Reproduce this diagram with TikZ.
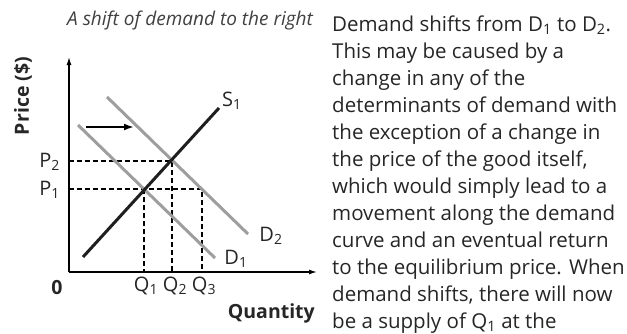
\documentclass[tikz,border=0pt]{standalone}
\usepackage{fontspec}
\setmainfont{Open Sans}
\usetikzlibrary{arrows.meta,positioning}

\begin{document}
\begin{tikzpicture}[x=1pt,y=-1pt,
  axis/.style={line width=1.3pt,-{Latex[length=8pt,width=5pt]}},
  guide/.style={line width=1.2pt,dash pattern=on 5pt off 3pt},
  supply/.style={line width=3pt,black!88},
  demand/.style={line width=3pt,black!38},
  lbl/.style={font=\fontsize{20}{22}\selectfont,inner sep=0pt,text=black!85},
  axlbl/.style={font=\fontsize{19.5}{22}\selectfont\bfseries,inner sep=0pt,text=black!85}]
\useasboundingbox (0,0) rectangle (627,333);
% title
\node[anchor=base west,inner sep=0pt,font=\fontsize{19}{22}\selectfont\itshape,text=black!75] (title) at (67,25) {A shift of demand to the right};
% axes
\coordinate (O) at (69,272);
\coordinate (ytop) at (69,57);
\coordinate (xend) at (317,272);
\draw[axis] (O) -- (ytop);
\draw[axis] (O) -- (xend);
\node[axlbl,rotate=90] (price) at (23,96) {Price (\$)};
\node[axlbl,anchor=base east] (qty) at (315,318) {Quantity};
\node[axlbl] (zero) at (57,288) {0};
% equilibrium points
\coordinate (E1) at (144,189);
\coordinate (E2) at (172,161);
\coordinate (E3) at (202,189);
% guide lines
\draw[guide] (O |- E2) -- (E2) -- (E2 |- O);
\draw[guide] (O |- E1) -- (E3) -- (E3 |- O);
\draw[guide] (E1) -- (E1 |- O);
% demand curves
\coordinate (d1a) at (78,125);
\coordinate (d1b) at (215,258);
\coordinate (d2a) at (107,97);
\coordinate (d2b) at (248,234);
\draw[demand] (d1a) -- (d1b);
\draw[demand] (d2a) -- (d2b);
% supply curve
\coordinate (s1a) at (83,257);
\coordinate (s1b) at (219,108);
\draw[supply] (s1a) -- (s1b);
% shift arrow
\coordinate (sh1) at (86,127);
\coordinate (sh2) at (134,127);
\draw[line width=2.4pt,-{Latex[length=10pt,width=7pt]}] (sh1) -- (sh2);
% curve labels
\node[lbl,anchor=south west] (S1) at (222,110) {S\textsubscript{1}};
\node[lbl] (D2) at (271,236) {D\textsubscript{2}};
\node[lbl] (D1) at (236,259) {D\textsubscript{1}};
\node[lbl,anchor=east] (P2) at (60,162) {P\textsubscript{2}};
\node[lbl,anchor=east] (P1) at (60,190) {P\textsubscript{1}};
\node[lbl,anchor=north] (Q1) at (146,277) {Q\textsubscript{1}};
\node[lbl,anchor=north] (Q2) at (175,277) {Q\textsubscript{2}};
\node[lbl,anchor=north] (Q3) at (204,277) {Q\textsubscript{3}};
% explanation text
\node[anchor=base west,inner sep=0pt,align=left,text=black!85,
  font=\fontsize{20.5}{27}\selectfont] (expl) at (332,328)
{Demand shifts from D\textsubscript{1} to D\textsubscript{2}.\\
This may be caused by a\\
change in any of the\\
determinants of demand with\\
the exception of a change in\\
the price of the good itself,\\
which would simply lead to a\\
movement along the demand\\
curve and an eventual return\\
to the equilibrium price. When\\
demand shifts, there will now\\
be a supply of Q\textsubscript{1} at the};
\end{tikzpicture}
\end{document}
